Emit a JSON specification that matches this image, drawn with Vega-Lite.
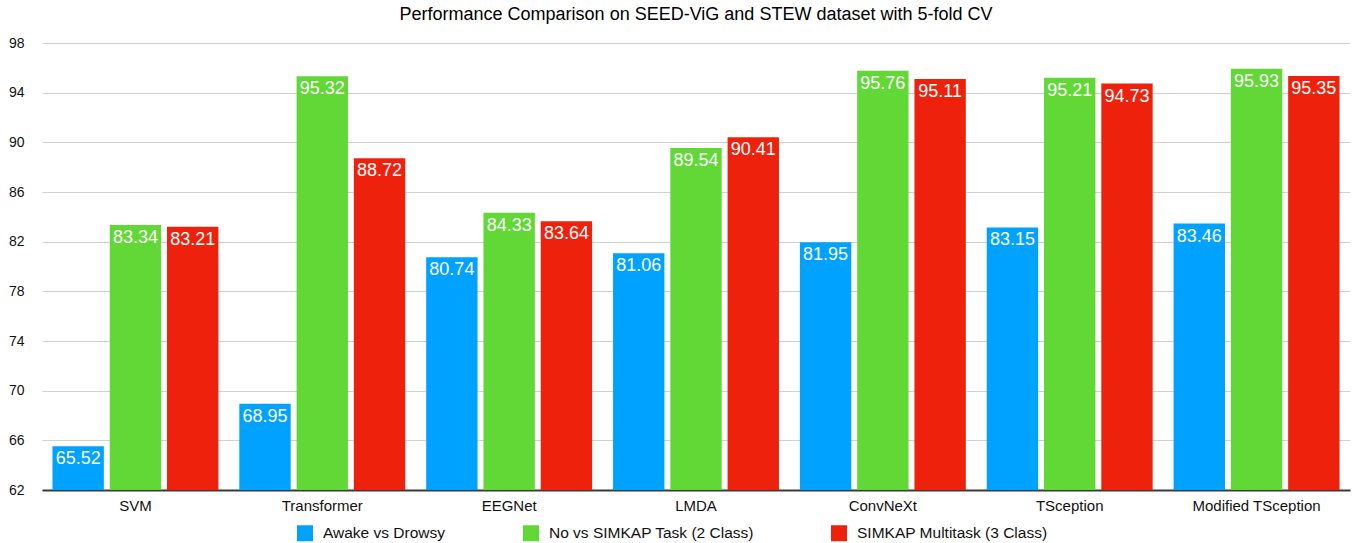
{
  "$schema": "https://vega.github.io/schema/vega-lite/v6.json",
  "autosize": "none",
  "width": 1308,
  "height": 447,
  "padding": {"left": 42, "top": 43, "right": 6, "bottom": 53},
  "background": "white",
  "config": {
    "font": "Liberation Sans",
    "view": {"stroke": null}
  },
  "title": {
    "text": "Performance Comparison on SEED-ViG and STEW dataset with 5-fold CV",
    "fontSize": 18,
    "fontWeight": "normal",
    "color": "#000",
    "anchor": "middle",
    "frame": "group",
    "offset": 12
  },
  "data": {
    "values": [
      {"model": "SVM", "task": "Awake vs Drowsy", "value": 65.52},
      {"model": "SVM", "task": "No vs SIMKAP Task (2 Class)", "value": 83.34},
      {"model": "SVM", "task": "SIMKAP Multitask (3 Class)", "value": 83.21},
      {"model": "Transformer", "task": "Awake vs Drowsy", "value": 68.95},
      {"model": "Transformer", "task": "No vs SIMKAP Task (2 Class)", "value": 95.32},
      {"model": "Transformer", "task": "SIMKAP Multitask (3 Class)", "value": 88.72},
      {"model": "EEGNet", "task": "Awake vs Drowsy", "value": 80.74},
      {"model": "EEGNet", "task": "No vs SIMKAP Task (2 Class)", "value": 84.33},
      {"model": "EEGNet", "task": "SIMKAP Multitask (3 Class)", "value": 83.64},
      {"model": "LMDA", "task": "Awake vs Drowsy", "value": 81.06},
      {"model": "LMDA", "task": "No vs SIMKAP Task (2 Class)", "value": 89.54},
      {"model": "LMDA", "task": "SIMKAP Multitask (3 Class)", "value": 90.41},
      {"model": "ConvNeXt", "task": "Awake vs Drowsy", "value": 81.95},
      {"model": "ConvNeXt", "task": "No vs SIMKAP Task (2 Class)", "value": 95.76},
      {"model": "ConvNeXt", "task": "SIMKAP Multitask (3 Class)", "value": 95.11},
      {"model": "TSception", "task": "Awake vs Drowsy", "value": 83.15},
      {"model": "TSception", "task": "No vs SIMKAP Task (2 Class)", "value": 95.21},
      {"model": "TSception", "task": "SIMKAP Multitask (3 Class)", "value": 94.73},
      {"model": "Modified TSception", "task": "Awake vs Drowsy", "value": 83.46},
      {"model": "Modified TSception", "task": "No vs SIMKAP Task (2 Class)", "value": 95.93},
      {"model": "Modified TSception", "task": "SIMKAP Multitask (3 Class)", "value": 95.35}
    ]
  },
  "encoding": {
    "x": {
      "field": "model",
      "type": "nominal",
      "sort": null,
      "scale": {"paddingInner": 0.112, "paddingOuter": 0.056},
      "axis": {
        "title": null,
        "labelAngle": 0,
        "labelFontSize": 15,
        "labelColor": "#111",
        "labelPadding": 8,
        "ticks": false,
        "domain": true,
        "domainColor": "#3a3a3a",
        "domainWidth": 2
      }
    },
    "xOffset": {
      "field": "task",
      "type": "nominal",
      "sort": ["Awake vs Drowsy", "No vs SIMKAP Task (2 Class)", "SIMKAP Multitask (3 Class)"],
      "scale": {"paddingInner": 0.103, "paddingOuter": 0}
    },
    "y": {
      "field": "value",
      "type": "quantitative",
      "scale": {"domain": [62, 98], "nice": false, "zero": false},
      "axis": {
        "title": null,
        "values": [62, 66, 70, 74, 78, 82, 86, 90, 94, 98],
        "labelFontSize": 14,
        "labelColor": "#111",
        "labelPadding": 18,
        "ticks": false,
        "domain": false,
        "grid": true,
        "gridColor": "#d0d0d0",
        "gridWidth": 1
      }
    }
  },
  "layer": [
    {
      "mark": {"type": "bar"},
      "encoding": {
        "y2": {"datum": 62},
        "color": {
          "field": "task",
          "type": "nominal",
          "sort": ["Awake vs Drowsy", "No vs SIMKAP Task (2 Class)", "SIMKAP Multitask (3 Class)"],
          "scale": {
            "domain": ["Awake vs Drowsy", "No vs SIMKAP Task (2 Class)", "SIMKAP Multitask (3 Class)"],
            "range": ["#00A2FF", "#61D836", "#EE220C"]
          },
          "legend": {
            "title": null,
            "orient": "none",
            "legendX": 255,
            "legendY": 482,
            "direction": "horizontal",
            "symbolType": "square",
            "symbolSize": 256,
            "symbolStrokeWidth": 0,
            "labelFontSize": 15.5,
            "labelColor": "#111",
            "labelLimit": 0,
            "labelOffset": 10,
            "columnPadding": 77
          }
        }
      }
    },
    {
      "mark": {"type": "text", "baseline": "top", "dy": 4, "color": "white", "fontSize": 18},
      "encoding": {
        "text": {"field": "value", "type": "quantitative", "format": ".2f"}
      }
    }
  ]
}
